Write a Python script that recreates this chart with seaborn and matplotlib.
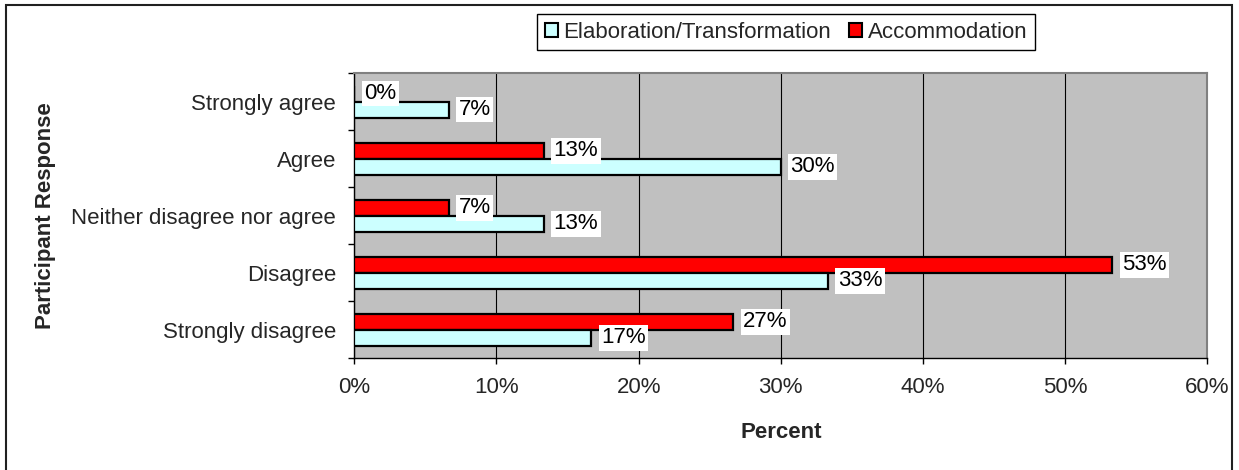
import matplotlib
matplotlib.use("Agg")
import matplotlib.pyplot as plt
import matplotlib.patches as mpatches
from matplotlib.ticker import FuncFormatter, FixedLocator
import seaborn as sns
import pandas as pd

categories = ["Strongly agree", "Agree", "Neither disagree nor agree", "Disagree", "Strongly disagree"]
elaboration = [6.67, 30.0, 13.33, 33.33, 16.67]
accommodation = [0.0, 13.33, 6.67, 53.33, 26.67]
series_names = ["Elaboration/Transformation", "Accommodation"]
x_ticks = [0, 10, 20, 30, 40, 50, 60]

df = pd.DataFrame({
    "Response": categories * 2,
    "Percent": elaboration + accommodation,
    "Series": [series_names[0]] * len(categories) + [series_names[1]] * len(categories),
})

sns.set_style("ticks")
plt.rcParams["font.family"] = ["Liberation Sans", "DejaVu Sans"]

fig = plt.figure(figsize=(12.39, 4.70), dpi=100)
ax = fig.add_axes([354.3 / 1239, 1 - 358.3 / 470, (1207.3 - 354.3) / 1239, (358.3 - 73) / 470])

palette = {series_names[0]: "#CCFFFF", series_names[1]: "#FF0000"}
sns.barplot(data=df, y="Response", x="Percent", hue="Series",
            hue_order=[series_names[1], series_names[0]], order=categories,
            palette=palette, orient="h", width=0.56, gap=0,
            edgecolor="black", linewidth=1.6, saturation=1, ax=ax, zorder=3)

ax.set_facecolor("#C0C0C0")
ax.set_xlim(0, 60)
ax.set_ylim(4.5, -0.5)
ax.xaxis.set_major_locator(FixedLocator(x_ticks))
ax.xaxis.set_major_formatter(FuncFormatter(lambda v, p: f"{v:.0f}%"))
ax.grid(axis="x", color="black", linewidth=0.8, zorder=0)
ax.grid(axis="y", visible=False)
ax.set_axisbelow(True)

ax.set_yticks(range(len(categories)))
ax.set_yticklabels(categories)
ax.set_yticks([i - 0.5 for i in range(len(categories) + 1)], minor=True)
ax.tick_params(axis="y", which="major", length=0, pad=13, labelsize=16)
ax.tick_params(axis="y", which="minor", length=4.5, width=1, color="black", direction="out")
ax.tick_params(axis="x", which="major", length=4.5, width=1, color="black", direction="out", pad=9, labelsize=16)

for side in ["left", "bottom"]:
    ax.spines[side].set_color("black")
    ax.spines[side].set_linewidth(1)
for side in ["top", "right"]:
    ax.spines[side].set_visible(True)
    ax.spines[side].set_color("#808080")
    ax.spines[side].set_linewidth(1.5)

for cont in ax.containers:
    vals = [b.get_width() for b in cont]
    ax.bar_label(cont, labels=[f"{v:.0f}%" for v in vals], padding=7, fontsize=16,
                 color="black",
                 bbox=dict(facecolor="white", edgecolor="none", pad=1.8), zorder=5)

ax.set_xlabel("Percent", fontsize=16, fontweight="bold")
ax.set_ylabel("Participant Response", fontsize=16, fontweight="bold")
ax.xaxis.set_label_coords((781 - 354.3) / 853, (358.3 - 433) / 285.3)
ax.xaxis.label.set_va("center")
ax.yaxis.set_label_coords((46 - 354.3) / 853, 0.5)
ax.yaxis.label.set_va("center")

leg0 = ax.get_legend()
if leg0 is not None:
    leg0.remove()
handles = [mpatches.Patch(facecolor=palette[n], edgecolor="black", linewidth=1.5) for n in series_names]
fig.legend(handles, series_names, loc="center", bbox_to_anchor=(786 / 1239, 1 - 32 / 470),
           ncol=2, fontsize=16, frameon=True, fancybox=False, edgecolor="black",
           framealpha=1, handlelength=0.6, handleheight=0.6, handletextpad=0.25,
           columnspacing=0.8, borderpad=0.35, borderaxespad=0)

border = mpatches.Rectangle((6 / 1239, -0.05), (1232 - 6) / 1239, 1.05 - 5 / 470,
                            transform=fig.transFigure, fill=False, edgecolor="#202020",
                            linewidth=1.5, clip_on=False)
fig.patches.append(border)

fig.savefig("out.png", dpi=100)
